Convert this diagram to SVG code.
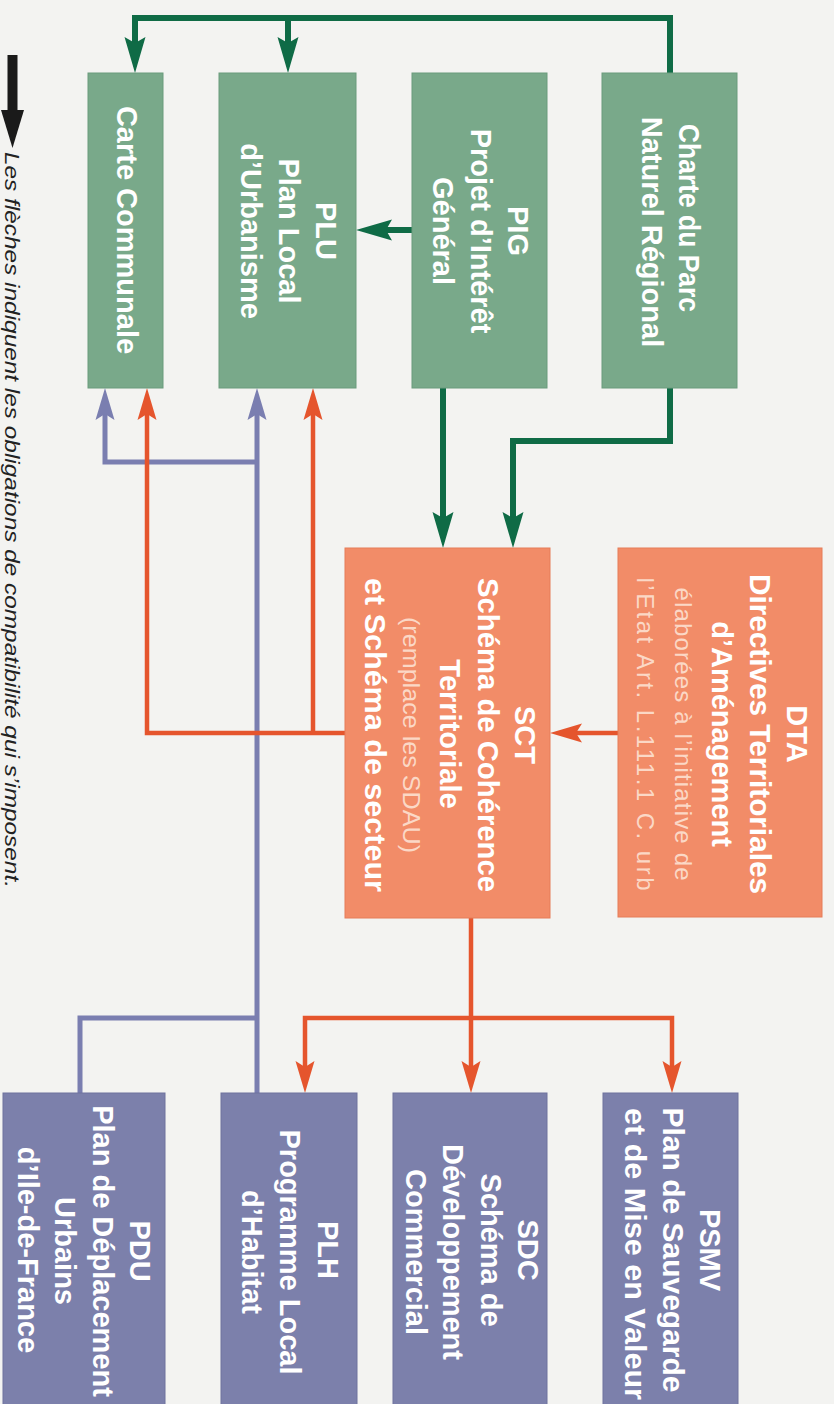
<svg xmlns="http://www.w3.org/2000/svg" width="834" height="1404" viewBox="0 0 834 1404">
<defs>
<style>
.bg{fill:#f3f3f1}
.bx-g{fill:#79a98a;stroke:#6b9b7c;stroke-width:1}
.bx-o{fill:#f28c68;stroke:#e67c58;stroke-width:1}
.bx-b{fill:#7c80ab;stroke:#6e729d;stroke-width:1}
.t{font-family:"Liberation Sans",Arial,sans-serif;font-weight:bold;font-size:29px;fill:#ffffff;text-anchor:middle}
.s{font-family:"Liberation Sans",Arial,sans-serif;font-weight:normal;font-size:24px;fill:#fbd8c6;text-anchor:middle}
.cg{fill:none;stroke:#0f6b46;stroke-width:6}
.co{fill:none;stroke:#e5552d;stroke-width:4.5}
.cb{fill:none;stroke:#7a7eb0;stroke-width:5}
.leg{font-family:"Liberation Sans",Arial,sans-serif;font-style:italic;font-size:21px;fill:#222}
</style>
<marker id="ag" viewBox="-10 -12 42 24" markerWidth="42" markerHeight="24" refX="0" refY="0" markerUnits="userSpaceOnUse" orient="auto-start-reverse"><path d="M28,0 L-8,-10.5 L-2,0 L-8,10.5 Z" fill="#0f6b46"/></marker>
<marker id="ao" viewBox="-10 -12 38 24" markerWidth="38" markerHeight="24" refX="0" refY="0" markerUnits="userSpaceOnUse" orient="auto-start-reverse"><path d="M24,0 L-8,-9.5 L-2,0 L-8,9.5 Z" fill="#e5552d"/></marker>
<marker id="ab" viewBox="-10 -12 38 24" markerWidth="38" markerHeight="24" refX="0" refY="0" markerUnits="userSpaceOnUse" orient="auto-start-reverse"><path d="M24,0 L-8,-9.5 L-2,0 L-8,9.5 Z" fill="#7a7eb0"/></marker>
</defs>
<rect class="bg" x="0" y="0" width="834" height="1404"/>

<g id="legend">
<rect x="7.5" y="55" width="10" height="60" fill="#1a1a1a"/>
<polygon points="1,110 24,110 12.5,148" fill="#1a1a1a"/>
<text class="leg" transform="translate(5,152) rotate(90)" textLength="736" lengthAdjust="spacingAndGlyphs">Les flèches indiquent les obligations de compatibilité qui s’imposent.</text>
</g>

<g id="connectors">
<path class="cg" d="M135,45 V18 H670 V73" marker-start="url(#ag)"/>
<path class="cg" d="M288,18 V45" marker-end="url(#ag)"/>
<path class="cg" d="M670,388 V441 H513 V520" marker-end="url(#ag)"/>
<path class="cg" d="M443,388 V520" marker-end="url(#ag)"/>
<path class="cg" d="M412,230 H384" marker-end="url(#ag)"/>
<path class="cb" d="M257,1093 V412" marker-end="url(#ab)"/>
<path class="cb" d="M105,412 V462 H257" marker-start="url(#ab)"/>
<path class="cb" d="M80,1093 V1018 H257"/>
<path class="co" d="M618,733 H574" marker-end="url(#ao)"/>
<path class="co" d="M147,412 V733 H345" marker-start="url(#ao)"/>
<path class="co" d="M313,733 V412" marker-end="url(#ao)"/>
<path class="co" d="M471,918 V1069" marker-end="url(#ao)"/>
<path class="co" d="M305,1069 V1018 H672 V1069" marker-start="url(#ao)" marker-end="url(#ao)"/>
</g>

<g id="carte">
<rect class="bx-g" x="88" y="73" width="75" height="315"/>
<text class="t" transform="translate(117,230) rotate(90)">Carte Communale</text>
</g>
<g id="plu">
<rect class="bx-g" x="219" y="73" width="137" height="315"/>
<text class="t" transform="translate(316,231) rotate(90)">PLU</text>
<text class="t" transform="translate(278.5,231) rotate(90)">Plan Local</text>
<text class="t" transform="translate(241,231) rotate(90)">d’Urbanisme</text>
</g>
<g id="pig">
<rect class="bx-g" x="412" y="73" width="135" height="315"/>
<text class="t" transform="translate(508,231) rotate(90)">PIG</text>
<text class="t" transform="translate(470.5,231) rotate(90)">Projet d’Intérêt</text>
<text class="t" transform="translate(433,231) rotate(90)">Général</text>
</g>
<g id="charte">
<rect class="bx-g" x="602" y="73" width="135" height="315"/>
<text class="t" transform="translate(679,218) rotate(90)" textLength="188" lengthAdjust="spacingAndGlyphs">Charte du Parc</text>
<text class="t" transform="translate(641.5,232) rotate(90)">Naturel Régional</text>
</g>

<g id="dta">
<rect class="bx-o" x="618" y="548" width="204" height="369"/>
<text class="t" transform="translate(787,734) rotate(90)">DTA</text>
<text class="t" transform="translate(749.5,734) rotate(90)" textLength="320" lengthAdjust="spacingAndGlyphs">Directives Territoriales</text>
<text class="t" transform="translate(712,734) rotate(90)">d’Aménagement</text>
<text class="s" transform="translate(674.5,734) rotate(90)" textLength="293" lengthAdjust="spacing">élaborées à l’initiative de</text>
<text class="s" transform="translate(637,734) rotate(90)" textLength="313" lengthAdjust="spacing">l’Etat Art. L.111.1 C. urb</text>
</g>
<g id="sct">
<rect class="bx-o" x="345" y="548" width="205" height="370"/>
<text class="t" transform="translate(515,735) rotate(90)">SCT</text>
<text class="t" transform="translate(477.5,735) rotate(90)" textLength="314" lengthAdjust="spacingAndGlyphs">Schéma de Cohérence</text>
<text class="t" transform="translate(440,734) rotate(90)">Territoriale</text>
<text class="s" transform="translate(402.5,735) rotate(90)" textLength="236" lengthAdjust="spacingAndGlyphs">(remplace les SDAU)</text>
<text class="t" transform="translate(365,735) rotate(90)" textLength="314" lengthAdjust="spacingAndGlyphs">et Schéma de secteur</text>
</g>

<g id="psmv">
<rect class="bx-b" x="603" y="1093" width="135" height="320"/>
<text class="t" transform="translate(700,1250) rotate(90)">PSMV</text>
<text class="t" transform="translate(662.5,1250) rotate(90)" textLength="285" lengthAdjust="spacingAndGlyphs">Plan de Sauvegarde</text>
<text class="t" transform="translate(625,1254) rotate(90)" textLength="292" lengthAdjust="spacingAndGlyphs">et de Mise en Valeur</text>
</g>
<g id="sdc">
<rect class="bx-b" x="393" y="1093" width="154" height="320"/>
<text class="t" transform="translate(518,1250) rotate(90)">SDC</text>
<text class="t" transform="translate(480.5,1250) rotate(90)">Schéma de</text>
<text class="t" transform="translate(443,1252) rotate(90)">Développement</text>
<text class="t" transform="translate(405.5,1252) rotate(90)">Commercial</text>
</g>
<g id="plh">
<rect class="bx-b" x="221" y="1093" width="136" height="320"/>
<text class="t" transform="translate(318,1250) rotate(90)">PLH</text>
<text class="t" transform="translate(280,1252) rotate(90)">Programme Local</text>
<text class="t" transform="translate(242,1252) rotate(90)">d’Habitat</text>
</g>
<g id="pdu">
<rect class="bx-b" x="3" y="1093" width="162" height="320"/>
<text class="t" transform="translate(130,1251) rotate(90)">PDU</text>
<text class="t" transform="translate(92.5,1251) rotate(90)">Plan de Déplacement</text>
<text class="t" transform="translate(55,1251) rotate(90)">Urbains</text>
<text class="t" transform="translate(17.5,1250) rotate(90)">d’Ile-de-France</text>
</g>
</svg>
